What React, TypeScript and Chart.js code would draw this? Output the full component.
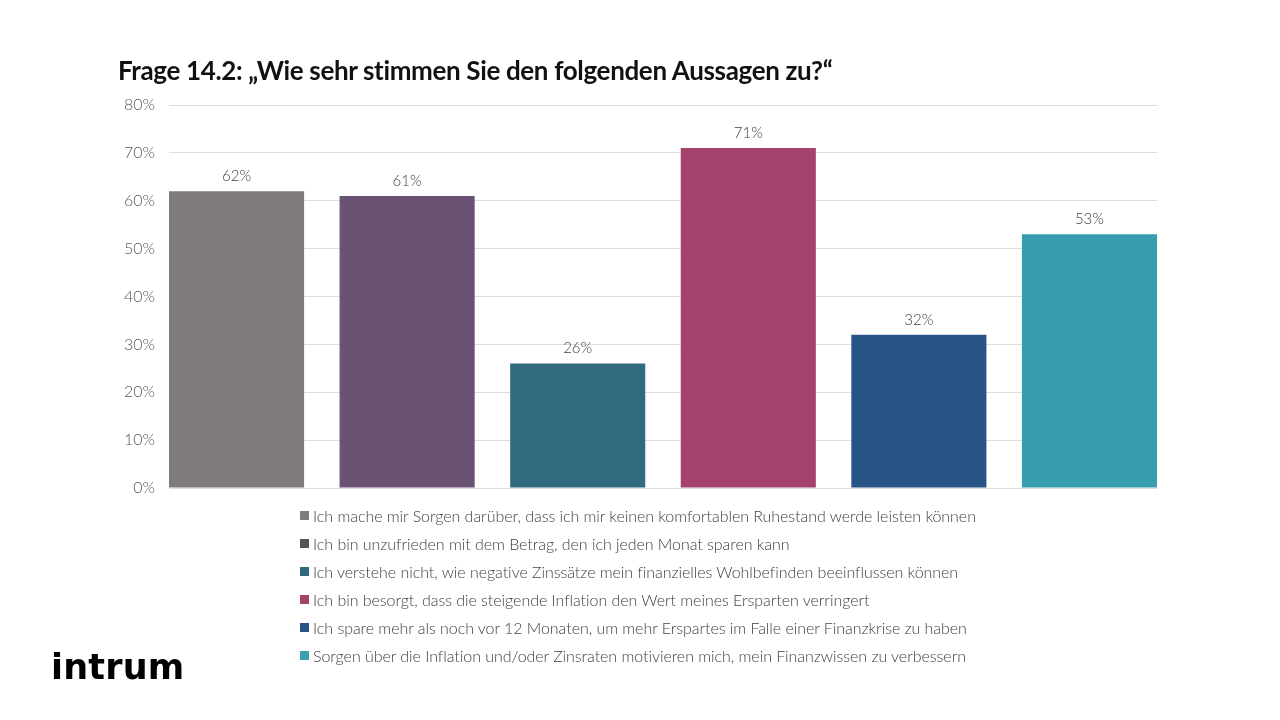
import React, { useEffect, useRef } from "react";
import { Chart, registerables } from "chart.js";

Chart.register(...registerables);

const title = "Frage 14.2: \u201EWie sehr stimmen Sie den folgenden Aussagen zu?\u201C";

const categories = [
  "Ich mache mir Sorgen darüber, dass ich mir keinen komfortablen Ruhestand werde leisten können",
  "Ich bin unzufrieden mit dem Betrag, den ich jeden Monat sparen kann",
  "Ich verstehe nicht, wie negative Zinssätze mein finanzielles Wohlbefinden beeinflussen können",
  "Ich bin besorgt, dass die steigende Inflation den Wert meines Ersparten verringert",
  "Ich spare mehr als noch vor 12 Monaten, um mehr Erspartes im Falle einer Finanzkrise zu haben",
  "Sorgen über die Inflation und/oder Zinsraten motivieren mich, mein Finanzwissen zu verbessern",
];

const values = [62, 61, 26, 71, 32, 53];

const barColors = ["#7f7a7e", "#6a5275", "#306b80", "#a5426b", "#285585", "#389daf"];
const legendColors = ["#7f7b7f", "#555555", "#316a80", "#a4426c", "#285585", "#3a9fae"];

const yTicks = [0, 10, 20, 30, 40, 50, 60, 70, 80];

const valueLabelPlugin = {
  id: "valueLabels",
  afterDatasetsDraw(chart: any) {
    const ctx = chart.ctx;
    const meta = chart.getDatasetMeta(0);
    ctx.save();
    ctx.font = "300 15px Lato";
    ctx.fillStyle = "#404040";
    ctx.textAlign = "center";
    ctx.textBaseline = "middle";
    meta.data.forEach((bar: any, i: number) => {
      ctx.fillText(values[i] + "%", bar.x, bar.y - 15);
    });
    ctx.restore();
  },
};

export default function App() {
  const ref = useRef<HTMLCanvasElement | null>(null);

  useEffect(() => {
    if (!ref.current) return;
    const chart = new Chart(ref.current, {
      type: "bar",
      data: {
        datasets: [
          {
            label: "Zustimmung",
            data: values.map((v, i) => ({ x: i, y: v })),
            backgroundColor: barColors,
            categoryPercentage: 1,
            barPercentage: 0.792,
          },
        ],
      },
      options: {
        animation: false,
        responsive: false,
        maintainAspectRatio: false,
        layout: { padding: { top: 105, bottom: 232, right: 123, left: 0 } },
        plugins: {
          legend: { display: false },
          tooltip: { enabled: false },
        },
        scales: {
          x: {
            type: "linear",
            display: false,
            offset: false,
            min: -0.396,
            max: categories.length - 1 + 0.396,
            ticks: { stepSize: 1, includeBounds: false },
          },
          y: {
            min: 0,
            max: 80,
            afterFit: (s: any) => {
              s.width = 169;
            },
            afterBuildTicks: (s: any) => {
              s.ticks = yTicks.map((v) => ({ value: v }));
            },
            border: { display: false },
            grid: { color: "#dddddd", drawTicks: false, lineWidth: 1 },
            ticks: {
              padding: 14,
              color: "#595959",
              font: { family: "Lato", size: 16, weight: "300" as any },
              callback: (v: any) => v + "%",
            },
          },
        },
      },
      plugins: [valueLabelPlugin],
    });
    return () => chart.destroy();
  }, []);

  return (
    <div style={{ position: "fixed", left: 0, top: 0, width: 1280, height: 720, background: "#ffffff", fontFamily: "Lato" }}>
      <canvas ref={ref} width={1280} height={720} style={{ position: "absolute", left: 0, top: 0 }} />
      <div
        style={{
          position: "absolute",
          left: 118,
          top: 54,
          fontFamily: "Lato",
          fontWeight: 700,
          fontSize: 26,
          color: "#111111",
          whiteSpace: "nowrap",
          letterSpacing: -0.35,
        }}
      >
        {title}
      </div>
      <div style={{ position: "absolute", left: 300, top: 501 }}>
        {categories.map((c, i) => (
          <div key={i} style={{ display: "flex", alignItems: "center", height: 28, whiteSpace: "nowrap" }}>
            <span style={{ display: "inline-block", width: 9, height: 9, background: legendColors[i], marginRight: 4 }} />
            <span style={{ fontFamily: "Lato", fontWeight: 300, fontSize: 16, color: "#404040", letterSpacing: -0.05 }}>{c}</span>
          </div>
        ))}
      </div>
      <div
        style={{
          position: "absolute",
          left: 51,
          top: 647,
          fontFamily: "DejaVu Sans",
          fontWeight: 700,
          fontSize: 35,
          color: "#000000",
          letterSpacing: 0.2,
        }}
      >
        intrum
      </div>
    </div>
  );
}
